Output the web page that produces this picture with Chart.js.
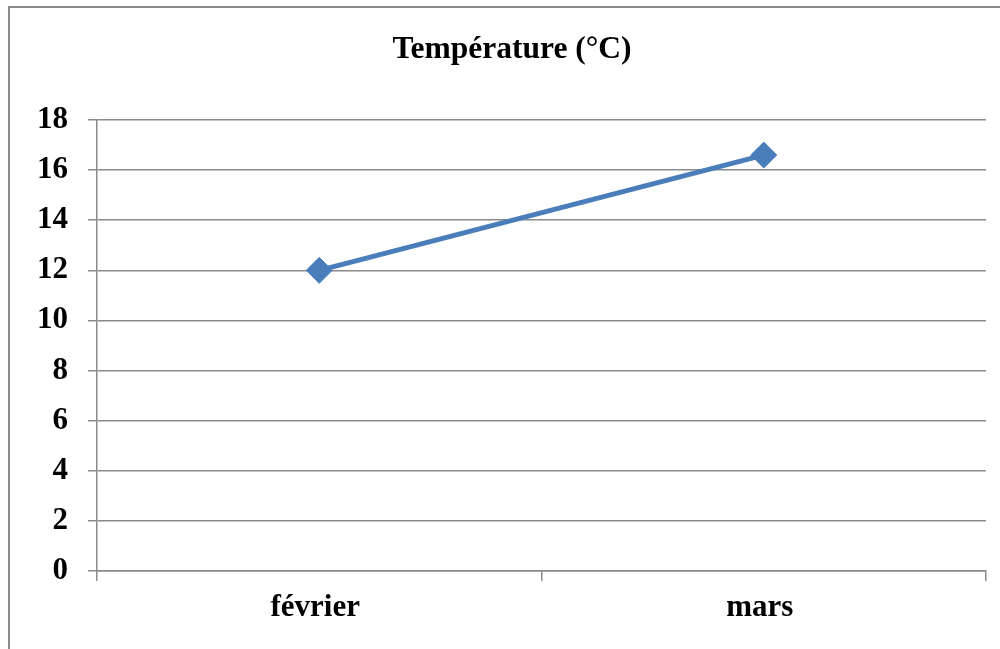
<!DOCTYPE html>
<html><head><meta charset="utf-8">
<script src="https://cdn.jsdelivr.net/npm/chart.js@4/dist/chart.umd.min.js"></script>
<style>
html,body{margin:0;padding:0;background:#fff;overflow:hidden}
#wrap{position:absolute;left:0;top:0;width:1000px;height:649px}
#frame{position:absolute;left:8px;top:6px;width:1010px;height:700px;border:2px solid #8a8a8a;box-sizing:border-box}
</style></head>
<body>
<div id="frame"></div>
<div id="wrap"><canvas id="c" width="1000" height="649"></canvas></div>
<script>
const categories = ["février", "mars"];
const temperatures = [12, 16.6];
const yTicks = [0, 2, 4, 6, 8, 10, 12, 14, 16, 18];
const titleText = "Température (°C)";

const font = "'Liberation Serif', 'Times New Roman', serif";
new Chart(document.getElementById('c'), {
  type: 'line',
  data: {
    labels: categories,
    datasets: [{
      data: temperatures,
      borderColor: '#4a7ebb',
      backgroundColor: '#4a7ebb',
      borderWidth: 5,
      pointStyle: 'rectRot',
      pointRadius: 13,
      pointBorderWidth: 1,
      pointBackgroundColor: '#4a7ebb',
      pointBorderColor: '#4a7ebb',
      tension: 0
    }]
  },
  options: {
    responsive: false,
    animation: false,
    layout: {padding: {left: 36, right: 12, top: 0, bottom: 0}},
    plugins: {
      legend: {display: false},
      tooltip: {enabled: false},
      title: {
        display: true,
        text: titleText,
        color: '#000',
        font: {family: font, size: 31.5, weight: 'bold', lineHeight: 1.2},
        padding: {top: 31, bottom: 51.2}
      }
    },
    scales: {
      x: {
        offset: true,
        grid: {offset: true, drawOnChartArea: false, drawTicks: true, tickLength: 10, color: '#8a8a8a', lineWidth: 1.5},
        border: {display: true, color: '#8a8a8a', width: 1.5},
        ticks: {color: '#000', padding: 8, labelOffset: -4, font: {family: font, size: 31, weight: 'bold', lineHeight: 1.2}},
        afterFit: s => { s.height = 78; }
      },
      y: {
        min: 0, max: 18,
        afterBuildTicks: s => { s.ticks = yTicks.map(v => ({value: v})); },
        grid: {color: '#8a8a8a', lineWidth: 1.5, drawTicks: true, tickLength: 9},
        border: {display: true, color: '#8a8a8a', width: 1.5},
        ticks: {color: '#000', padding: 20, font: {family: font, size: 31, weight: 'bold'}},
        afterFit: s => { s.width = 61; }
      }
    }
  }
});
</script>
</body></html>
